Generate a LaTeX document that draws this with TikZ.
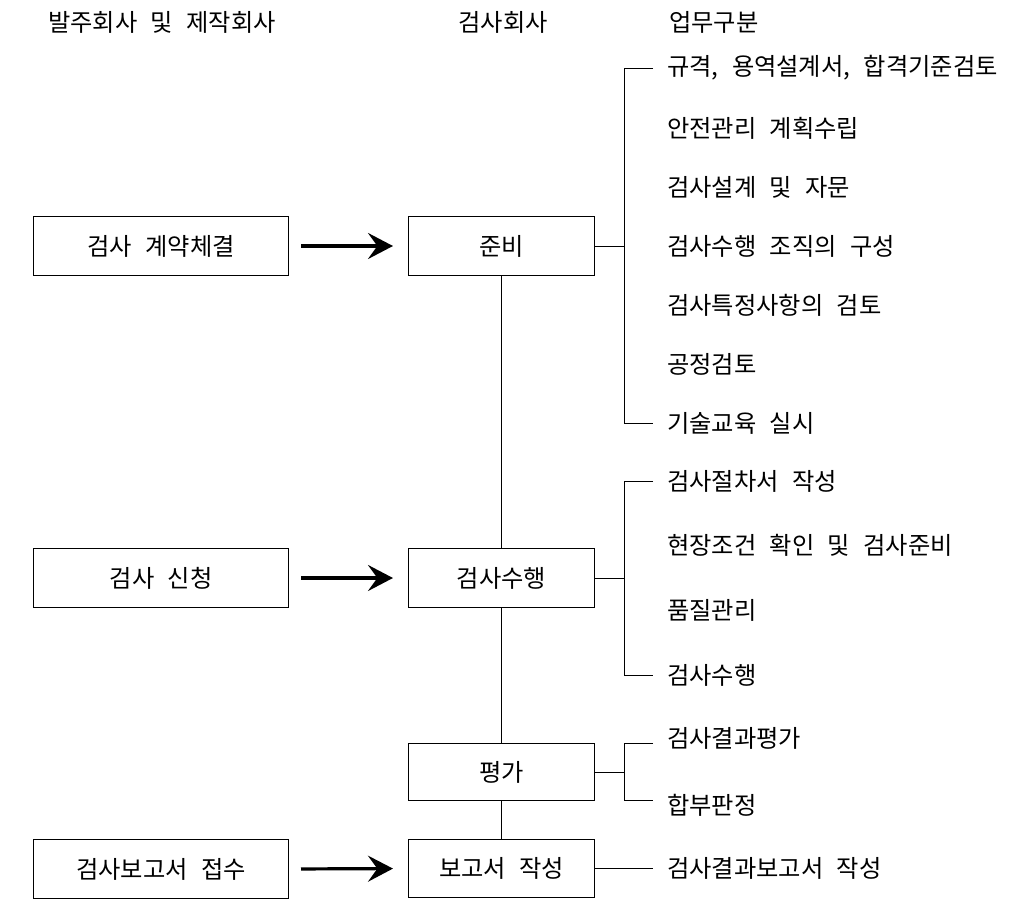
\documentclass[tikz,border=0pt]{standalone}
\usepackage{fontspec}
\setmainfont{Noto Sans CJK KR}
\usetikzlibrary{arrows.meta}
\newcommand\korfnt{\fontsize{18.2pt}{21pt}\selectfont\spaceskip 0.55em\relax}
\begin{document}
\begin{tikzpicture}[x=0.75pt,y=-0.75pt,
  every node/.style={font=\korfnt, inner sep=0pt},
  box/.style={draw, line width=0.75pt, minimum width=140pt, minimum height=44.25pt, anchor=north west},
  midbox/.style={box, minimum width=139.5pt},
  item/.style={anchor=west},
  flow/.style={-{Stealth[length=18.75pt,width=19.5pt,inset=7pt]}, line width=2.4pt, shorten <=9pt, shorten >=11.25pt},
  ln/.style={line width=0.75pt}]
\useasboundingbox (0,0) rectangle (1020,906);
% headers
\node (h1) at (162,22) {발주회사 및 제작회사};
\node (h2) at (503,22) {검사회사};
\node[item] (h3) at (669,22) {업무구분};
% left boxes
\node[box, minimum width=191.25pt] (l1) at (33,216) {검사 계약체결};
\node[box, minimum width=191.25pt] (l2) at (33,548) {검사 신청};
\node[box, minimum width=191.25pt] (l3) at (33,839) {검사보고서 접수};
% middle boxes
\node[midbox] (m1) at (408,216) {준비};
\node[midbox] (m2) at (408,548) {검사수행};
\node[midbox, minimum height=42.75pt] (m3) at (408,743) {평가};
\node[midbox, minimum height=43.5pt] (m4) at (408,839) {보고서 작성};
% arrows
\draw[flow] (l1.east) -- (m1.west);
\draw[flow] (l2.east) -- (m2.west);
\draw[flow] (l3.east) -- (m4.west);
% vertical spine
\draw[ln] (m1.south) -- (m2.north);
\draw[ln] (m2.south) -- (m3.north);
\draw[ln] (m3.south) -- (m4.north);
% items group 1
\node[item] (a1) at (667,68) {규격, 용역설계서, 합격기준검토};
\node[item] (a2) at (667,128) {안전관리 계획수립};
\node[item] (a3) at (667,187) {검사설계 및 자문};
\node[item] (a4) at (667,246) {검사수행 조직의 구성};
\node[item] (a5) at (667,305) {검사특정사항의 검토};
\node[item] (a6) at (667,364) {공정검토};
\node[item] (a7) at (667,423) {기술교육 실시};
% items group 2
\node[item] (b1) at (667,481) {검사절차서 작성};
\node[item] (b2) at (667,545) {현장조건 확인 및 검사준비};
\node[item] (b3) at (667,610) {품질관리};
\node[item] (b4) at (667,675) {검사수행};
% items group 3
\node[item] (c1) at (667,738) {검사결과평가};
\node[item] (c2) at (667,805) {합부판정};
% item 4
\node[item] (d1) at (667,868) {검사결과보고서 작성};
% bracket coordinates
\coordinate (k1t) at (624,69);
\coordinate (k1b) at (624,423);
\coordinate (k2t) at (624,481);
\coordinate (k2b) at (624,675);
\coordinate (k3t) at (624,743);
\coordinate (k3b) at (624,800);
% brackets
\draw[ln] (m1.east) -- (m1.east -| k1t);
\draw[ln] ([xshift=-10.5pt]a1.west |- k1t) -- (k1t) -- (k1b) -- ([xshift=-10.5pt]a7.west);
\draw[ln] (m2.east) -- (m2.east -| k2t);
\draw[ln] ([xshift=-10.5pt]b1.west) -- (k2t) -- (k2b) -- ([xshift=-10.5pt]b4.west);
\draw[ln] (m3.east) -- (m3.east -| k3t);
\draw[ln] ([xshift=-10.5pt]c1.west |- k3t) -- (k3t) -- (k3b) -- ([xshift=-10.5pt]c2.west |- k3b);
\draw[ln] (m4.east) -- ([xshift=-10.5pt]d1.west |- m4.east);
\end{tikzpicture}
\end{document}
